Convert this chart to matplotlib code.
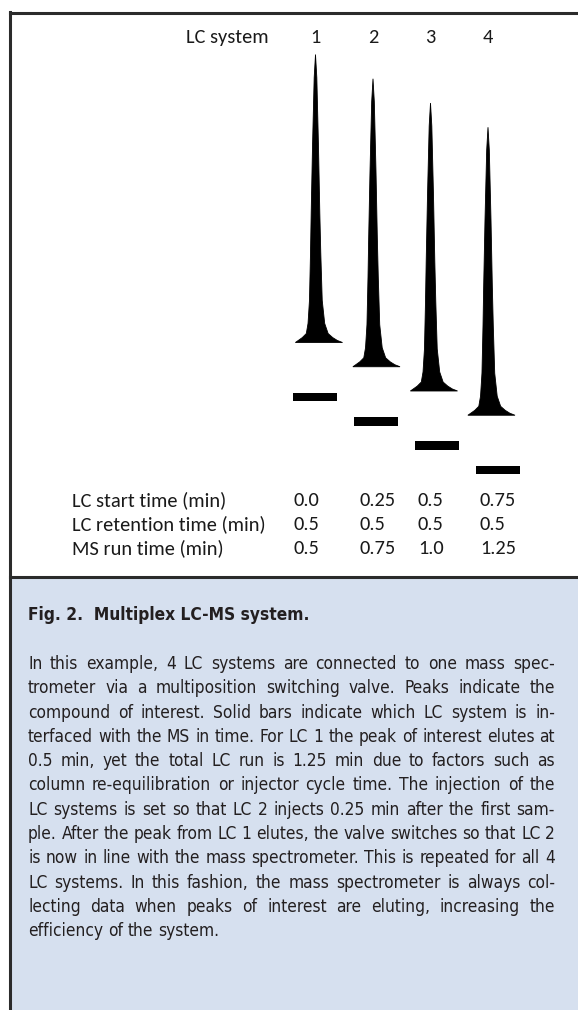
import matplotlib
matplotlib.use("Agg")
import numpy as np
import matplotlib.pyplot as plt
from matplotlib import font_manager
from matplotlib.patches import Rectangle
from matplotlib.lines import Line2D
from matplotlib.transforms import Affine2D, blended_transform_factory

W, H = 578, 1010

# --- data ---
lc_system = [1, 2, 3, 4]
lc_start = [0.0, 0.25, 0.5, 0.75]
lc_retention = [0.5, 0.5, 0.5, 0.5]
ms_run = [0.5, 0.75, 1.0, 1.25]
peak_intensity = [1.0, 1.0, 1.0, 1.0]

# traced peak outline: relative height vs half width (in lane spacings)
peak_rel = [0.0, 0.007, 0.017, 0.031, 0.066, 0.146, 0.31, 0.45, 0.68, 0.92, 1.0]
peak_left = [0.35, 0.30, 0.23, 0.16, 0.13, 0.105, 0.087, 0.075, 0.052, 0.023, 0.0]
peak_right = [0.47, 0.38, 0.30, 0.22, 0.16, 0.117, 0.092, 0.075, 0.052, 0.023, 0.0]

row_labels = ["LC start time (min)", "LC retention time (min)", "MS run time (min)"]
rows = [lc_start, lc_retention, ms_run]

title = "Fig. 2.  Multiplex LC-MS system."
caption = [
    "In this example, 4 LC systems are connected to one mass spec-",
    "trometer via a multiposition switching valve. Peaks indicate the",
    "compound of interest. Solid bars indicate which LC system is in-",
    "terfaced with the MS in time. For LC 1 the peak of interest elutes at",
    "0.5 min, yet the total LC run is 1.25 min due to factors such as",
    "column re-equilibration or injector cycle time. The injection of the",
    "LC systems is set so that LC 2 injects 0.25 min after the first sam-",
    "ple. After the peak from LC 1 elutes, the valve switches so that LC 2",
    "is now in line with the mass spectrometer. This is repeated for all 4",
    "LC systems. In this fashion, the mass spectrometer is always col-",
    "lecting data when peaks of interest are eluting, increasing the",
    "efficiency of the system.",
]

# --- fonts ---
names = {f.name for f in font_manager.fontManager.ttflist}
panel_font = "Carlito" if "Carlito" in names else "Lato"
cap_stretch = "normal"
if "Liberation Sans Narrow" in names:
    cap_font = "Liberation Sans Narrow"
elif any(f.name == "DejaVu Sans" and f.stretch == "condensed" for f in font_manager.fontManager.ttflist):
    cap_font, cap_stretch = "DejaVu Sans", "condensed"
else:
    cap_font = "Roboto"

fig = plt.figure(figsize=(W / 100, H / 100), dpi=100)
fig.patch.set_facecolor("white")
renderer = fig.canvas.get_renderer()
# pixel coordinates, origin top-left
pix = Affine2D().scale(1 / W, -1 / H).translate(0, 1) + fig.transFigure

# frame and caption box
blue = "#d6e0ef"
frame = "#2b2b2b"
fig.patches.append(Rectangle((11, 577), W - 11, H - 577, transform=pix,
                             facecolor=blue, edgecolor="none", zorder=0))
for xs, ys in [([10, W], [13, 13]), ([10, 10], [12, H]), ([10, W], [577, 577])]:
    fig.lines.append(Line2D(xs, ys, transform=pix, color=frame, lw=2.2, zorder=2))

# --- diagram axes: x in LC lanes, y in minutes (down) ---
lane_px, lane0_px = 57.5, 315.5
min_px, t0_px = 97.0, 342.5
ax = fig.add_axes([0, 0, 1, 1])
ax.set_xlim(1 - lane0_px / lane_px, 1 + (W - lane0_px) / lane_px)
ax.set_ylim((H - t0_px) / min_px, -t0_px / min_px)
ax.axis("off")

peak_scale = 288 / min_px
rel = np.array(peak_rel)
for lane, t0, amp in zip(lc_system, lc_start, peak_intensity):
    xs = np.concatenate([lane - np.array(peak_left), (lane + np.array(peak_right))[::-1]])
    ys = np.concatenate([t0 - rel * amp * peak_scale, (t0 - rel * amp * peak_scale)[::-1]])
    ax.fill(xs, ys, color="black", lw=0.6, ec="black")

# MS windows: second x scale in minutes, same y
ms_px, ms0_px = 244.8, 192.3
axm = fig.add_axes([0, 0, 1, 1], sharey=ax)
axm.set_xlim(-ms0_px / ms_px, (W - ms0_px) / ms_px)
axm.axis("off")
bar_gap = 6 / min_px
bar_thick = 8.5 / min_px
bar_len = 0.18
axm.barh([t + bar_gap for t in ms_run], bar_len, height=bar_thick,
         left=[t - bar_len / 2 for t in ms_run], color="black")


# --- panel text ---
def text_width(text, family, size, weight="normal", stretch="normal"):
    t = fig.text(0, 0, text, family=family, fontsize=size, weight=weight, fontstretch=stretch)
    w = t.get_window_extent(renderer).width
    t.remove()
    return w


psize = 10 * 154 / text_width("LC start time (min)", panel_font, 10)
ink = "#1a1a1a"
fig.text(186, 43, "LC system", transform=pix, family=panel_font, fontsize=psize,
         color=ink, va="baseline", ha="left")
lane_tr = blended_transform_factory(ax.transData, pix)
for lane in lc_system:
    fig.text(lane, 43, str(lane), transform=lane_tr, family=panel_font,
             fontsize=psize, color=ink, va="baseline", ha="center")

col_x = [294, 360, 418, 480]
for i, (label, vals) in enumerate(zip(row_labels, rows)):
    yb = 506 + 24 * i
    fig.text(72, yb, label, transform=pix, family=panel_font, fontsize=psize,
             color=ink, va="baseline")
    for cx, v in zip(col_x, vals):
        fig.text(cx, yb, str(v), transform=pix, family=panel_font, fontsize=psize,
                 color=ink, va="baseline")

# --- caption ---
x0, x1 = 28, 555
cap_ink = "#231f20"
widths = [text_width(line, cap_font, 10, stretch=cap_stretch) for line in caption[:-1]]
csize = 10 * (x1 - x0) / np.percentile(widths, 90)

fig.text(x0, 620, title, transform=pix, family=cap_font, fontsize=csize,
         fontstretch=cap_stretch, weight="bold", color=cap_ink, va="baseline")


def put_line(y, line, justify):
    size = csize
    while True:
        words = line.split(" ")
        texts = [fig.text(0, 0, w, transform=pix, family=cap_font, fontsize=size,
                          fontstretch=cap_stretch, color=cap_ink, va="baseline")
                 for w in words]
        ws = [t.get_window_extent(renderer).width for t in texts]
        gap = (x1 - x0 - sum(ws)) / (len(words) - 1)
        if not justify or gap >= 2.5 or size < csize * 0.85:
            break
        for t in texts:
            t.remove()
        size -= 0.1
    if not justify:
        gap = text_width("a a", cap_font, size, stretch=cap_stretch) - \
            2 * text_width("a", cap_font, size, stretch=cap_stretch)
    x = x0
    for t, w in zip(texts, ws):
        t.set_position((x, y))
        x += w + gap


for i, line in enumerate(caption):
    put_line(669 + 24.3 * i, line, i < len(caption) - 1)

fig.savefig("out.png", dpi=100, facecolor="white")
